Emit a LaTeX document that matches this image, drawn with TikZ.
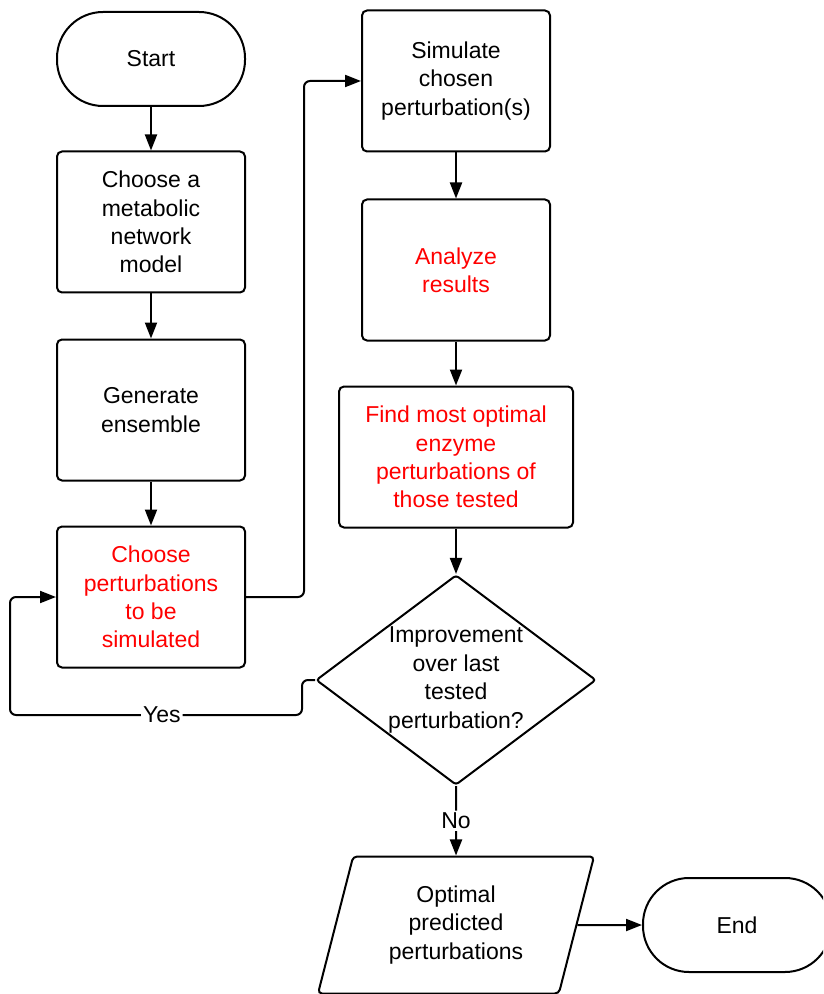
\documentclass[tikz,border=0pt]{standalone}
\usepackage{fontspec}
\setmainfont{Liberation Sans}
\usetikzlibrary{arrows.meta,positioning,shapes.geometric}
\tikzset{
  term/.style={draw,line width=1pt,rectangle,rounded corners=23pt,
    minimum width=94pt,minimum height=47pt,align=center},
  stepbox/.style={draw,line width=1pt,rounded corners=2.5pt,
    minimum width=94pt,minimum height=70.5pt,align=center},
  decide/.style={draw,line width=1pt,diamond,rounded corners=1.5pt,aspect=1.33,
    inner sep=0pt,minimum width=140pt,minimum height=105pt,align=center},
  iobox/.style={draw,line width=1pt,trapezium,trapezium left angle=69,
    trapezium right angle=111,trapezium stretches body,rounded corners=2pt,
    minimum width=138pt,minimum height=68.5pt,align=center},
  flow/.style={line width=1pt,rounded corners=3pt,-{Triangle[length=8pt,width=6pt]}},
  lbl/.style={fill=white,inner sep=1pt}
}

\begin{document}
\begin{tikzpicture}[x=0.5pt,y=-0.5pt,font=\fontsize{11.5}{14.2}\selectfont]
  \useasboundingbox (0,0) rectangle (823,994);
  \clip (0,0) rectangle (823,994);
  % left column
  \node[term] (start) at (151,59) {Start};
  \node[stepbox] (model) at (151,222) {Choose a\\metabolic\\network\\model};
  \node[stepbox] (ens) at (151,410) {Generate\\ensemble};
  \node[stepbox,text=red] (pick) at (151,597) {Choose\\perturbations\\to be\\simulated};
  % right column
  \node[stepbox] (sim) at (456,81) {Simulate\\chosen\\perturbation(s)};
  \node[stepbox,text=red] (ana) at (456,270) {Analyze\\results};
  \node[stepbox,text=red,minimum width=117pt] (best) at (456,457)
    {Find most optimal\\enzyme\\perturbations of\\those tested};
  \node[decide] (dec) at (456,680) {Improvement\\over last\\tested\\perturbation?};
  \node[iobox] (out) at (456,925) {Optimal\\predicted\\perturbations};
  \node[term] (end) at (737,925) {End};

  \draw[flow] (start) -- (model);
  \draw[flow] (model) -- (ens);
  \draw[flow] (ens) -- (pick);
  \draw[flow] (pick.east) -- ++(58,0) |- (sim.west);
  \draw[flow] (sim) -- (ana);
  \draw[flow] (ana) -- (best);
  \draw[flow] (best) -- (dec);
  \draw[flow] (dec.west) -- ++(-13,0) -- ++(0,35)
    -- node[lbl,pos=0.48] {Yes} (10,715) -- (10,597) -- (pick.west);
  \draw[flow] (dec) -- node[lbl] {No} (out);
  \draw[flow] (out.east) -- (end.west);
\end{tikzpicture}
\end{document}
